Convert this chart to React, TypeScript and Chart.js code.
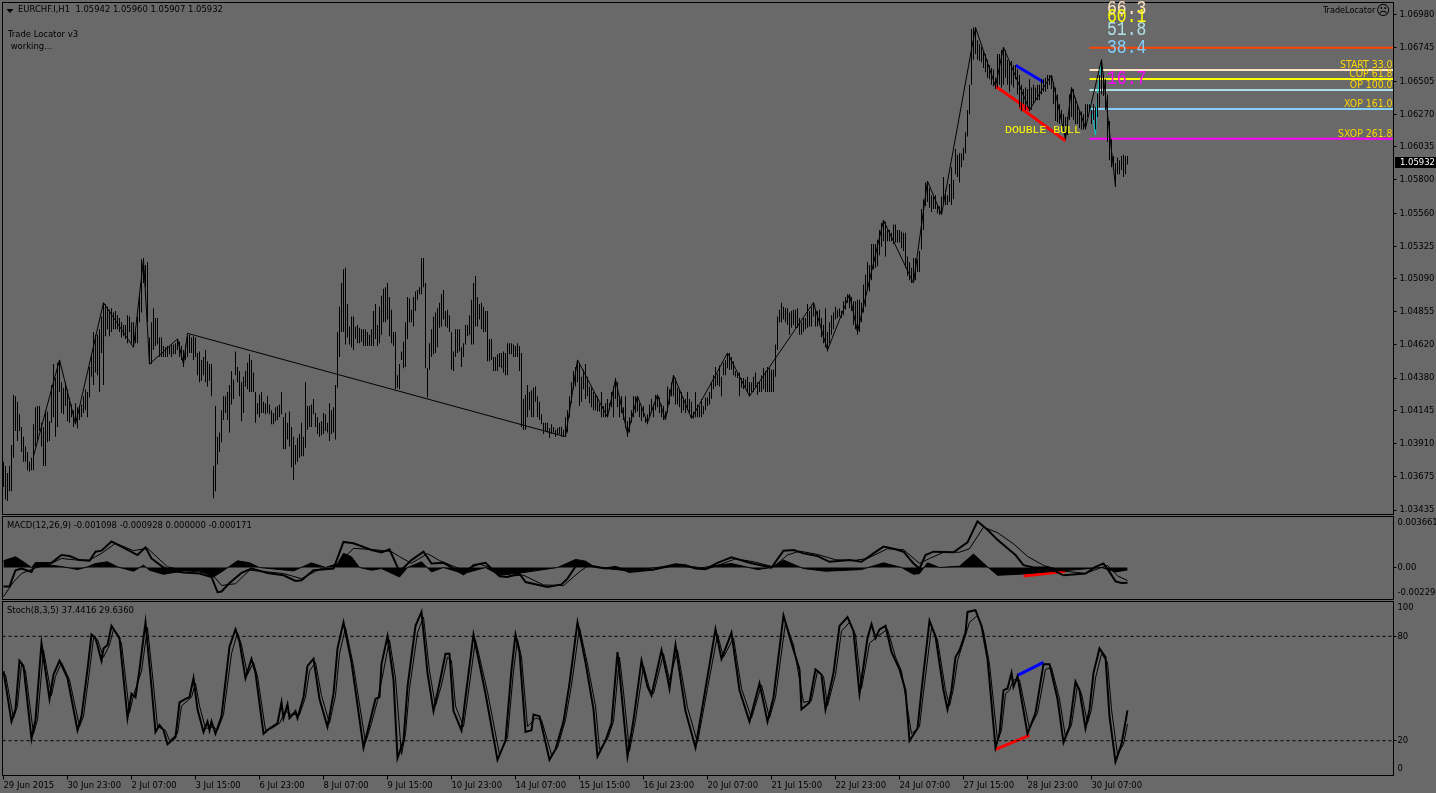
import React, { useEffect, useRef } from "react";
import { Chart, registerables } from "chart.js";

Chart.register(...registerables);

// ---- price bars, in pips (1.0000 = 10000)
const highs = [
10378,10375,10370,10375,10390,10426,10425,10421,10412,10403,
10396,10389,10385,10378,10381,10405,10417,10418,10418,10406,
10403,10415,10414,10407,10433,10448,10438,10449,10451,10435,
10431,10435,10430,10424,10419,10415,10420,10417,10418,10419,
10425,10430,10428,10446,10455,10471,10469,10469,10473,10482,
10492,10491,10489,10487,10488,10485,10486,10483,10481,10478,
10476,10476,10483,10482,10478,10478,10471,10482,10496,10523,
10524,10519,10521,10467,10478,10488,10481,10481,10467,10467,
10461,10460,10461,10461,10462,10462,10463,10466,10464,10461,
10458,10462,10468,10469,10467,10468,10467,10456,10457,10451,
10453,10458,10450,10448,10448,10375,10418,10396,10399,10415,
10425,10425,10428,10433,10443,10437,10457,10446,10443,10435,
10439,10443,10449,10455,10451,10442,10428,10420,10426,10428,
10421,10420,10425,10419,10415,10413,10417,10418,10419,10428,
10410,10413,10406,10414,10403,10396,10390,10395,10398,10406,
10396,10435,10418,10418,10419,10423,10413,10410,10406,10407,
10413,10412,10406,10420,10415,10417,10433,10471,10489,10506,
10516,10517,10491,10475,10482,10482,10475,10476,10474,10473,
10473,10473,10471,10469,10473,10486,10491,10476,10489,10497,
10502,10503,10506,10496,10487,10471,10471,10440,10448,10457,
10464,10478,10496,10495,10487,10496,10500,10501,10503,10524,
10524,10506,10445,10463,10473,10482,10485,10488,10492,10498,
10501,10486,10487,10483,10471,10457,10473,10473,10473,10460,
10463,10476,10476,10483,10494,10506,10511,10496,10491,10492,
10489,10486,10486,10466,10466,10453,10453,10455,10456,10456,
10457,10456,10463,10463,10463,10462,10461,10463,10461,10456,
10423,10426,10433,10428,10429,10431,10432,10425,10421,10412,
10406,10406,10406,10402,10405,10403,10401,10402,10403,10403,
10401,10410,10415,10425,10435,10443,10446,10451,10449,10439,
10444,10448,10439,10432,10431,10428,10426,10425,10420,10428,
10418,10420,10423,10420,10428,10432,10438,10435,10425,10425,
10417,10425,10407,10410,10415,10425,10425,10425,10420,10417,
10418,10410,10412,10419,10423,10419,10426,10426,10424,10419,
10418,10414,10432,10430,10435,10440,10438,10431,10430,10428,
10424,10423,10428,10423,10421,10414,10428,10419,10418,10423,
10418,10424,10424,10428,10435,10440,10446,10441,10447,10439,
10449,10451,10456,10456,10453,10450,10443,10442,10442,10438,
10438,10437,10439,10435,10435,10439,10442,10435,10435,10440,
10445,10443,10446,10445,10444,10444,10462,10482,10487,10492,
10489,10488,10488,10485,10486,10487,10487,10488,10481,10478,
10481,10481,10491,10486,10489,10492,10487,10486,10487,10481,
10476,10488,10471,10478,10483,10485,10489,10487,10488,10486,
10493,10496,10498,10498,10496,10493,10493,10494,10494,10492,
10505,10512,10521,10519,10534,10534,10534,10537,10544,10549,
10551,10550,10544,10544,10542,10548,10548,10544,10544,10543,
10542,10542,10525,10521,10517,10524,10524,10523,10529,10559,
10566,10578,10579,10574,10569,10568,10569,10562,10561,10568,
10582,10573,10569,10577,10589,10580,10602,10598,10599,10599,
10603,10614,10630,10648,10688,10689,10689,10680,10677,10675,
10672,10670,10666,10662,10660,10659,10653,10670,10670,10673,
10675,10673,10666,10665,10665,10662,10662,10659,10655,10648,
10645,10646,10645,10652,10646,10648,10646,10648,10648,10652,
10652,10653,10655,10655,10655,10650,10646,10641,10634,10630,
10627,10625,10625,10641,10646,10645,10639,10634,10630,10629,
10627,10634,10634,10634,10630,10634,10632,10642,10655,10666,
10655,10652,10641,10622,10609,10597,10592,10596,10594,10597,
10598,10597,10597];
const lows = [
10360,10351,10350,10357,10357,10381,10400,10393,10400,10385,
10378,10378,10372,10371,10372,10372,10389,10393,10400,10389,
10375,10375,10392,10393,10406,10410,10396,10403,10428,10413,
10412,10418,10407,10406,10410,10403,10405,10402,10408,10410,
10413,10415,10410,10424,10439,10433,10442,10440,10428,10456,
10433,10468,10473,10468,10471,10473,10473,10473,10471,10467,
10468,10466,10463,10471,10463,10460,10463,10463,10478,10485,
10506,10503,10478,10448,10448,10458,10461,10462,10453,10453,
10453,10453,10453,10455,10453,10455,10455,10458,10453,10451,
10446,10451,10453,10456,10456,10451,10453,10440,10435,10436,
10440,10435,10432,10436,10425,10352,10357,10376,10385,10392,
10408,10413,10408,10399,10419,10423,10440,10435,10425,10407,
10413,10432,10430,10428,10428,10428,10406,10412,10410,10413,
10413,10412,10413,10412,10405,10405,10407,10408,10410,10412,
10387,10387,10394,10389,10374,10365,10376,10378,10381,10382,
10382,10388,10401,10403,10403,10412,10403,10398,10396,10397,
10398,10400,10399,10393,10398,10399,10394,10431,10453,10471,
10471,10462,10467,10462,10460,10458,10466,10463,10463,10464,
10461,10461,10461,10461,10461,10461,10466,10461,10463,10469,
10478,10478,10480,10468,10463,10461,10430,10431,10430,10451,
10445,10446,10466,10478,10478,10475,10486,10494,10498,10498,
10503,10445,10424,10444,10453,10455,10456,10460,10474,10475,
10480,10475,10474,10471,10444,10443,10453,10456,10457,10446,
10453,10462,10468,10469,10462,10462,10475,10475,10480,10473,
10471,10471,10450,10450,10451,10443,10443,10443,10446,10445,
10442,10440,10440,10455,10455,10453,10453,10453,10443,10403,
10401,10401,10410,10415,10410,10410,10421,10410,10408,10405,
10398,10400,10399,10395,10398,10399,10396,10397,10398,10396,
10396,10396,10399,10410,10420,10430,10432,10435,10418,10421,
10430,10423,10425,10420,10417,10415,10415,10414,10414,10410,
10410,10410,10410,10415,10417,10410,10423,10417,10410,10413,
10408,10402,10396,10399,10406,10410,10413,10414,10410,10407,
10410,10406,10405,10410,10413,10410,10415,10417,10413,10410,
10408,10408,10413,10419,10425,10425,10419,10419,10417,10413,
10415,10413,10415,10413,10410,10409,10410,10410,10410,10410,
10412,10415,10418,10419,10423,10430,10432,10433,10432,10425,
10440,10440,10445,10444,10444,10440,10439,10438,10425,10431,
10430,10431,10428,10425,10428,10428,10431,10426,10428,10428,
10430,10428,10428,10428,10428,10428,10439,10458,10478,10478,
10480,10478,10476,10469,10474,10476,10474,10474,10469,10469,
10471,10473,10474,10475,10475,10482,10475,10475,10476,10467,
10463,10460,10457,10463,10469,10473,10480,10481,10482,10481,
10483,10487,10492,10488,10486,10476,10473,10469,10471,10478,
10485,10489,10501,10500,10508,10516,10517,10518,10526,10532,
10536,10525,10536,10536,10536,10534,10535,10535,10535,10531,
10529,10517,10511,10508,10506,10508,10508,10514,10514,10530,
10544,10561,10564,10560,10557,10559,10559,10556,10555,10556,
10562,10562,10562,10564,10562,10566,10584,10582,10578,10589,
10594,10599,10611,10627,10648,10666,10670,10666,10665,10664,
10660,10657,10653,10652,10648,10647,10645,10646,10648,10646,
10648,10653,10648,10643,10648,10646,10652,10641,10632,10629,
10634,10630,10632,10629,10630,10634,10637,10637,10637,10641,
10643,10643,10645,10648,10645,10634,10622,10621,10620,10621,
10618,10609,10612,10623,10625,10623,10620,10620,10617,10616,
10616,10616,10625,10629,10620,10623,10616,10625,10632,10641,
10640,10630,10607,10594,10589,10589,10575,10584,10584,10587,
10582,10584,10591];

const zigzagBars = [15,28,36,50,65,70,73,87,90,92,281,287,302,306,312,317,322,327,331,335,344,356,362,373,405,412,423,427,440,455,462,469,486,496,500,513,524,531,534,541,549,556];
const zigzagPips = [10382,10451,10405,10492,10460,10523,10448,10466,10448,10470,10396,10451,10410,10437,10398,10425,10406,10426,10408,10440,10409,10440,10456,10425,10492,10458,10498,10471,10551,10506,10579,10555,10689,10647,10675,10630,10655,10609,10646,10617,10666,10575];

const patternBlueBars = [506, 520];
const patternBluePips = [10662, 10650];
const patternRedABars = [496, 513];
const patternRedAPips = [10647, 10630];
const patternRedBBars = [508, 531];
const patternRedBPips = [10632, 10608];
const cyanBars = [543, 545, 546, 547, 549];
const cyanPips = [10635, 10622, 10612, 10642, 10665];

const levelNames = ["", "START 33.0", "COP 61.8", "OP 100.0", "XOP 161.0", "SXOP 261.8"];
const levelPrices = [1.06746, 1.06586, 1.06522, 1.06442, 1.06306, 1.06094];
const levelColors = ["#ff4500", "#ffe4c4", "#ffff00", "#b0e0e6", "#87cefa", "#ff00ff"];
const levelStartBar = 543;

const bigLabels = ["66.3", "60.1", "51.8", "38.4", "16.7"];
const bigLabelPrices = [1.07023, 1.06966, 1.06873, 1.06744, 1.06522];
const bigLabelColors = ["#ffe4c4", "#ffff00", "#b0e0e6", "#87cefa", "#ff00ff"];

const priceTicks = [1.0698,1.06745,1.06505,1.0627,1.06035,1.058,1.0556,1.05325,1.0509,1.04855,1.0462,1.0438,1.04145,1.0391,1.03675,1.03435];
const lastClose = 1.05932;

// ---- MACD, in millionths
const macdBars = [0,3,6,9,14,16,24,29,33,38,43,46,49,54,59,67,71,74,80,84,90,98,104,107,109,113,119,124,132,140,146,149,155,165,170,175,184,189,193,198,204,210,214,220,230,235,241,248,252,258,261,272,279,282,287,295,301,306,313,325,336,341,346,351,357,364,373,384,390,395,400,407,413,423,429,435,440,446,450,455,458,461,465,475,482,487,492,497,502,506,510,515,522,530,541,546,550,553,556,559,562];
const macdMain = [-1355,-1355,-194,-73,-315,290,339,895,823,532,484,1137,1210,1863,1500,895,1452,653,0,-242,-363,-435,-677,-1766,-1718,-1113,-387,-73,-387,-556,-968,-920,-194,-73,1839,1742,1258,1089,1307,-300,532,1137,290,339,-484,169,339,-629,-677,-435,-1040,-1403,-1210,-798,290,96,-73,48,-315,-145,242,169,-73,-121,339,726,339,0,1210,1258,1016,823,411,532,411,1016,1500,1306,1137,290,-73,895,1137,1089,1800,3315,2710,1984,1379,895,169,0,0,-556,-435,48,290,-315,-992,-1113,-1098];
const signalBars = [0,5,9,15,24,29,37,43,49,56,65,72,82,90,104,109,116,123,132,140,149,159,165,175,187,194,198,204,212,218,230,238,245,254,260,270,280,288,292,300,312,325,337,345,352,358,366,375,385,392,398,407,416,425,432,442,450,458,463,470,478,483,490,497,505,512,520,530,541,548,552,557,562];
const macdSignal = [-2081,-1040,-435,-73,290,653,532,532,1016,1742,1210,1380,48,-194,-435,-1283,-1161,-194,-315,-435,-798,-48,-73,1380,1258,1137,780,300,1000,500,-200,250,-100,-600,-550,-1250,-1300,-300,100,-20,-200,-170,170,60,-100,200,620,420,50,900,1180,940,560,500,650,1350,1280,300,650,1090,1100,1350,2900,2500,1700,800,150,-250,-420,-50,150,-600,-928];
const histBars = [0,6,10,14,16,20,24,30,37,42,46,52,57,65,70,73,80,90,98,105,109,117,123,128,145,154,161,167,170,174,178,184,189,198,202,209,214,220,230,241,248,260,277,286,291,296,313,336,347,357,364,377,384,390,396,400,411,429,440,449,455,458,462,468,478,485,492,497,508,528,537,549,556,562];
const histValues = [484,774,411,0,339,339,169,48,-145,48,290,411,48,-266,169,-194,-484,-242,-242,-677,-315,484,339,0,-242,339,0,290,1016,774,0,-194,-73,-677,0,411,-315,0,-436,0,-556,-363,0,581,459,0,-242,169,-73,169,290,-145,0,532,169,-73,-266,-145,339,0,-484,-436,339,0,100,968,48,-556,-484,-242,-145,0,-315,-171];
const macdRedBars = [510, 531];
const macdRedValues = [-605, -266];

// ---- Stochastic
const stochBars = [0,4,6,8,10,14,16,19,23,25,28,32,37,39,42,44,46,49,50,52,54,58,62,64,66,68,71,74,76,78,80,82,86,88,91,93,95,97,100,102,103,104,106,109,113,116,118,121,124,126,130,133,137,139,140,142,143,146,147,150,152,155,158,162,165,167,170,174,180,183,186,188,189,192,195,197,200,202,206,209,212,215,218,221,223,225,229,231,235,241,247,251,254,256,258,261,264,265,268,273,276,280,283,287,291,295,297,301,304,307,309,312,315,319,322,324,329,332,333,336,341,346,351,356,359,364,368,373,378,382,385,390,394,398,399,403,406,409,411,415,418,422,425,428,432,434,436,438,441,444,448,451,453,457,459,463,466,470,472,474,476,478,481,482,486,489,492,496,498,500,502,504,505,507,512,516,520,523,527,530,533,536,538,541,543,545,548,551,553,556,559,562];
const stochMain = [60,31,38,66,63,21,32,76,44,58,66,56,26,34,61,81,79,66,73,75,86,79,33,47,45,61,88,51,25,29,26,18,22,42,44,45,56,38,25,31,26,31,24,34,74,84,77,56,67,59,24,27,30,42,33,41,33,37,33,45,63,67,44,28,47,73,88,65,16,30,44,45,64,80,55,10,20,51,86,94,59,37,53,70,70,37,26,45,81,47,9,20,61,81,71,25,26,35,34,9,15,31,53,88,65,38,11,20,30,71,47,11,32,66,51,46,72,56,50,75,37,16,50,84,67,82,49,31,53,31,45,92,76,61,38,42,61,58,38,59,86,91,83,47,79,87,79,84,86,71,61,49,20,27,49,89,80,49,38,49,68,72,82,94,95,86,67,16,24,49,50,59,51,57,24,36,64,64,44,19,28,54,49,27,38,59,73,68,34,8,18,37.44];
const stochSigBars = [1,5,7,9,11,15,17,20,24,26,29,33,38,40,43,45,47,50,53,55,59,63,65,69,72,75,77,81,83,87,89,92,94,96,98,101,105,107,110,114,117,119,122,125,127,131,134,138,141,144,148,151,153,156,159,163,166,168,171,175,181,184,187,190,193,196,199,201,203,207,210,213,216,219,222,224,226,230,232,236,242,248,252,255,257,259,262,266,269,274,277,281,284,288,292,296,298,302,305,308,310,313,316,320,323,325,330,333,337,342,347,352,357,360,365,369,374,379,383,386,391,395,400,404,407,410,412,416,419,423,426,429,433,437,442,446,449,454,458,460,464,467,471,473,475,477,483,487,490,493,497,499,501,503,505,508,513,517,521,524,528,531,534,537,539,542,544,546,549,552,554,557,560,562];
const stochSignal = [58,33,40,64,60,24,32,72,46,57,65,55,28,34,60,79,78,68,75,84,76,36,46,60,85,52,28,26,20,24,40,43,45,53,40,27,28,26,35,70,82,75,58,65,57,26,27,30,37,35,35,45,60,65,46,30,46,70,85,63,19,30,43,60,78,56,12,24,50,82,91,60,40,52,68,66,40,28,44,78,48,12,22,60,78,68,28,33,32,12,16,32,52,85,64,40,15,21,31,68,48,14,32,63,50,47,70,55,72,39,19,50,81,68,79,50,33,52,33,45,88,75,42,43,60,57,40,58,83,88,81,50,76,80,84,68,60,24,28,48,85,78,49,40,50,66,88,92,83,64,20,26,47,49,55,55,27,36,61,62,44,22,29,52,47,30,38,56,70,65,38,12,18,29.636];
const stochRedBars = [496, 513];
const stochRedValues = [15, 23];
const stochBlueBars = [507, 520];
const stochBlueValues = [57.5, 65];
const stochLevels = [80, 20];

// ---- axis and caption text
const timeLabels = ["29 Jun 2015","30 Jun 23:00","2 Jul 07:00","3 Jul 15:00","6 Jul 23:00","8 Jul 07:00","9 Jul 15:00","10 Jul 23:00","14 Jul 07:00","15 Jul 15:00","16 Jul 23:00","20 Jul 07:00","21 Jul 15:00","22 Jul 23:00","24 Jul 07:00","27 Jul 15:00","28 Jul 23:00","30 Jul 07:00"];
const timeTickBars = [0,32,64,96,128,160,192,224,256,288,320,352,384,416,448,480,512,544];
const headerTitle = "EURCHF.I,H1  1.05942 1.05960 1.05907 1.05932";
const macdTitle = "MACD(12,26,9) -0.001098 -0.000928 0.000000 -0.000171";
const stochTitle = "Stoch(8,3,5) 37.4416 29.6360";

const BG = "#696969";
const INK = "#000000";
const UI_FAMILY = '"DejaVu Sans Condensed", Roboto, sans-serif';
const UI_SIZE = 9.4;
const UI_FONT = `${UI_SIZE}px ${UI_FAMILY}`;
const LEVEL_FONT = `10.4px ${UI_FAMILY}`;
const WIDTH = 1436;
const BAR_MIN = -0.5;
const BAR_MAX = 695;

const xy = (xs: number[], ys: number[], k = 1) => xs.map((x, i) => ({ x, y: ys[i] * k }));

const line = (data: any[], color: string, width: number, extra: any = {}) => ({
  type: "line",
  data,
  borderColor: color,
  borderWidth: width,
  pointRadius: 0,
  tension: 0,
  fill: false,
  ...extra,
});

const xScale = (show: boolean) => ({
  type: "linear",
  min: BAR_MIN,
  max: BAR_MAX,
  offset: false,
  display: show,
  grid: { drawOnChartArea: false, drawTicks: true, tickLength: 4, color: INK },
  border: { display: false },
  afterBuildTicks: (s: any) => {
    s.ticks = timeTickBars.map((value) => ({ value }));
  },
  afterFit: (s: any) => {
    s.height = show ? 17.5 : 0;
    s.paddingLeft = 0;
    s.paddingRight = 0;
    s.paddingTop = 0;
    s.paddingBottom = 0;
  },
  ticks: {
    autoSkip: false,
    maxRotation: 0,
    minRotation: 0,
    align: "start",
    padding: 0,
    color: INK,
    font: { family: UI_FAMILY, size: UI_SIZE },
    callback: (_: any, i: number) => timeLabels[i],
  },
});

const yScale = (min: number, max: number, ticks: number[], fmt: (v: number) => string, pad: number) => ({
  type: "linear",
  position: "right",
  min,
  max,
  grid: { drawOnChartArea: false, drawTicks: true, tickLength: 3, color: INK },
  border: { display: false },
  afterBuildTicks: (s: any) => {
    s.ticks = ticks.map((value) => ({ value }));
  },
  afterFit: (s: any) => {
    s.width = 42.5;
    s.paddingLeft = 0;
    s.paddingRight = 0;
    s.paddingTop = 0;
    s.paddingBottom = 0;
  },
  ticks: {
    padding: pad,
    autoSkip: false,
    color: INK,
    font: { family: UI_FAMILY, size: UI_SIZE },
    callback: (v: number) => fmt(v),
  },
});

const panePlugin = (draw: (c: any, area: any, ctx: CanvasRenderingContext2D) => void) => ({
  id: "pane",
  afterDatasetsDraw(chart: any) {
    const { ctx, chartArea: a } = chart;
    ctx.save();
    ctx.strokeStyle = INK;
    ctx.lineWidth = 1;
    ctx.strokeRect(a.left, a.top, a.right - a.left, a.bottom - a.top);
    draw(chart, a, ctx);
    ctx.restore();
  },
});

function mainConfig(): any {
  const bars = highs.map((h, i) => ({ x: i, y: [lows[i] / 1e4, h / 1e4] }));
  return {
    type: "bar",
    data: {
      datasets: [
        { type: "bar", data: bars, backgroundColor: "#000000", barThickness: 1, borderWidth: 0, inflateAmount: 0, grouped: false },
        line(xy(zigzagBars, zigzagPips, 1e-4), "#000000", 1),
        line(xy(cyanBars, cyanPips, 1e-4), "#00c8d2", 1),
        line(xy(patternRedABars, patternRedAPips, 1e-4), "#ff0000", 3),
        line(xy(patternRedBBars, patternRedBPips, 1e-4), "#ff0000", 3),
        line(xy(patternBlueBars, patternBluePips, 1e-4), "#0000ff", 3),
        ...levelPrices.map((p, i) =>
          line([{ x: levelStartBar, y: p }, { x: BAR_MAX, y: p }], levelColors[i], 2)
        ),
      ],
    },
    options: {
      animation: false,
      responsive: false,
      devicePixelRatio: 1,
      layout: { autoPadding: false, padding: { left: 2.5, top: 2.5, right: 0, bottom: 0.5 } },
      plugins: { legend: { display: false }, tooltip: { enabled: false } },
      scales: {
        x: xScale(false),
        y: yScale(1.034028, 1.070695, priceTicks, (v) => v.toFixed(5), 3),
      },
    },
    plugins: [
      panePlugin((chart, a, ctx) => {
        const y = chart.scales.y;
        ctx.textBaseline = "middle";
        ctx.fillStyle = INK;
        ctx.font = UI_FONT;
        ctx.textAlign = "left";
        ctx.fillText(headerTitle, 18, 10);
        ctx.fillText("Trade Locator v3", 8, 35);
        ctx.fillText(" working...", 8, 47);
        ctx.font = `9px ${UI_FAMILY}`;
        ctx.fillText("TradeLocator", 1323, 11);
        ctx.font = '14px "DejaVu Sans"';
        ctx.fillText("\u2639", 1376, 11);
        ctx.beginPath();
        ctx.moveTo(6.5, 9);
        ctx.lineTo(13.5, 9);
        ctx.lineTo(10, 13);
        ctx.closePath();
        ctx.fill();

        ctx.font = LEVEL_FONT;
        ctx.textAlign = "right";
        ctx.textBaseline = "bottom";
        ctx.fillStyle = "#ffd700";
        levelNames.forEach((name, i) => {
          if (name) ctx.fillText(name, a.right - 1, y.getPixelForValue(levelPrices[i]) + 0.5);
        });

        ctx.textAlign = "left";
        ctx.textBaseline = "middle";
        ctx.font = '20px "Liberation Mono", monospace';
        bigLabels.forEach((t, i) => {
          ctx.save();
          ctx.translate(1107, y.getPixelForValue(bigLabelPrices[i]));
          ctx.scale(0.82, 1);
          ctx.fillStyle = bigLabelColors[i];
          ctx.fillText(t, 0, 0);
          ctx.restore();
        });
        ctx.font = '11.5px "Liberation Mono", monospace';
        ctx.fillStyle = "#ffff00";
        ctx.fillText("DOUBLE BULL", 1005, 130);

        const cy = Math.round(y.getPixelForValue(lastClose));
        ctx.fillStyle = "#000000";
        ctx.fillRect(1395, cy - 4, 41, 11);
        ctx.fillStyle = "#ffffff";
        ctx.font = UI_FONT;
        ctx.fillText(lastClose.toFixed(5), a.right + 6.5, cy + 1.5);
      }),
    ],
  };
}

function edgeLabels(chart: any, a: any, ctx: CanvasRenderingContext2D, top: string, bottom: string) {
  ctx.font = UI_FONT;
  ctx.fillStyle = INK;
  ctx.textAlign = "left";
  ctx.textBaseline = "middle";
  ctx.fillText(top, a.right + 4, a.top + 6);
  ctx.fillText(bottom, a.right + 4, a.bottom - 7);
}

function macdConfig(): any {
  return {
    type: "line",
    data: {
      datasets: [
        line(xy(histBars, histValues, 1e-6), "#000000", 1, { fill: { value: 0 }, backgroundColor: "#000000" }),
        line(xy(macdBars, macdMain, 1e-6), "#000000", 2),
        line(xy(signalBars, macdSignal, 1e-6), "#000000", 1),
        line(xy(macdRedBars, macdRedValues, 1e-6), "#ff0000", 3),
      ],
    },
    options: {
      animation: false,
      responsive: false,
      devicePixelRatio: 1,
      layout: { autoPadding: false, padding: { left: 2.5, top: 1.5, right: 0, bottom: 1.5 } },
      plugins: { legend: { display: false }, tooltip: { enabled: false } },
      scales: {
        x: xScale(false),
        y: yScale(-0.002294, 0.003661, [0], () => "0.00", 1),
      },
    },
    plugins: [
      panePlugin((chart, a, ctx) => {
        edgeLabels(chart, a, ctx, "0.003661", "-0.002294");
        ctx.textAlign = "left";
        ctx.fillText(macdTitle, 7, a.top + 9.5);
      }),
    ],
  };
}

function stochConfig(): any {
  return {
    type: "line",
    data: {
      datasets: [
        ...stochLevels.map((v) =>
          line([{ x: BAR_MIN, y: v }, { x: BAR_MAX, y: v }], "#000000", 1, { borderDash: [3, 3] })
        ),
        line(xy(stochSigBars, stochSignal), "#000000", 1),
        line(xy(stochBars, stochMain), "#000000", 2),
        line(xy(stochRedBars, stochRedValues), "#ff0000", 3),
        line(xy(stochBlueBars, stochBlueValues), "#0000ff", 3),
      ],
    },
    options: {
      animation: false,
      responsive: false,
      devicePixelRatio: 1,
      layout: { autoPadding: false, padding: { left: 2.5, top: 1.5, right: 0, bottom: 0 } },
      plugins: { legend: { display: false }, tooltip: { enabled: false } },
      scales: {
        x: xScale(true),
        y: yScale(0, 100, stochLevels, (v) => String(v), 1),
      },
    },
    plugins: [
      panePlugin((chart, a, ctx) => {
        edgeLabels(chart, a, ctx, "100", "0");
        ctx.textAlign = "left";
        ctx.fillText(stochTitle, 7, a.top + 9.5);
      }),
    ],
  };
}

function Pane({ top, height, config }: { top: number; height: number; config: () => any }) {
  const ref = useRef<HTMLCanvasElement>(null);
  useEffect(() => {
    const chart = new Chart(ref.current as HTMLCanvasElement, config());
    return () => chart.destroy();
  }, []);
  return (
    <canvas
      ref={ref}
      width={WIDTH}
      height={height}
      style={{ position: "absolute", left: 0, top, width: WIDTH, height, display: "block" }}
    />
  );
}

export default function App() {
  useEffect(() => {
    document.body.style.margin = "0";
    document.body.style.background = BG;
  }, []);
  return (
    <div style={{ position: "relative", width: WIDTH, height: 793, background: BG, overflow: "hidden" }}>
      <Pane top={0} height={515} config={mainConfig} />
      <Pane top={515} height={86} config={macdConfig} />
      <Pane top={600} height={193} config={stochConfig} />
    </div>
  );
}
